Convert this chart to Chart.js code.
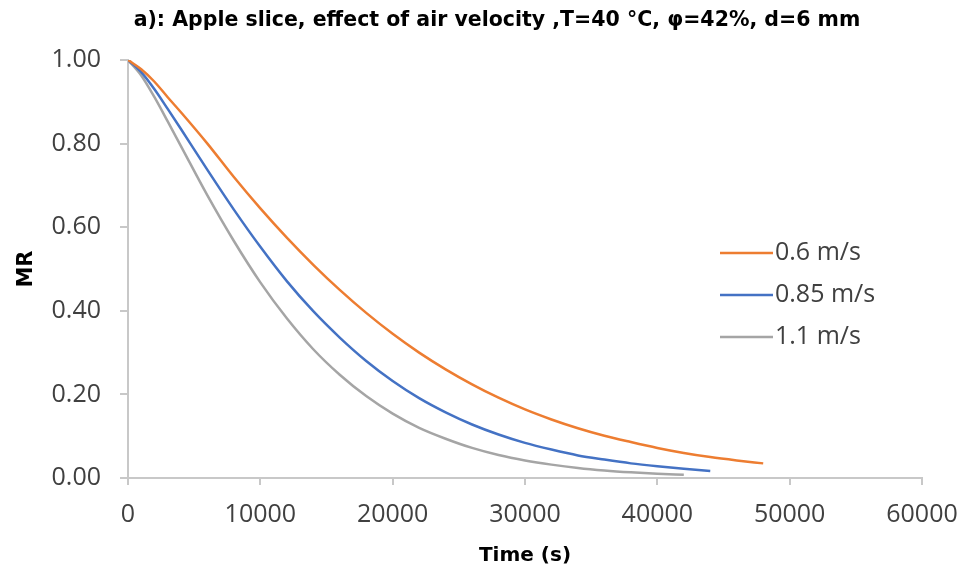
<!DOCTYPE html>
<html>
<head>
<meta charset="utf-8">
<title>Apple slice, effect of air velocity</title>
<script src="https://cdn.jsdelivr.net/npm/chart.js"></script>
<style>
html, body { margin: 0; padding: 0; background: #fff; }
#wrap { width: 966px; height: 575px; }
</style>
</head>
<body>
<div id="wrap"><canvas id="chart" width="966" height="575"></canvas></div>

<script>
// Tiempo de secado (s)
const times = [0, 1000, 2000, 3000, 4000, 6000, 8000, 10000, 12000, 14000, 16000, 18000, 20000, 22000,
  24000, 26000, 28000, 30000, 32000, 34000, 36000, 38000, 40000, 42000, 44000, 46000, 48000];

// MR para cada velocidad del aire
const mr06 = [1.00, 0.978, 0.948, 0.911, 0.875, 0.80, 0.72, 0.645, 0.575, 0.51, 0.45, 0.395, 0.345, 0.30,
  0.26, 0.224, 0.192, 0.164, 0.140, 0.119, 0.101, 0.086, 0.072, 0.060, 0.050, 0.042, 0.035];
const mr085 = [1.00, 0.971, 0.930, 0.883, 0.835, 0.737, 0.642, 0.553, 0.471, 0.399, 0.336, 0.280, 0.232, 0.191,
  0.157, 0.128, 0.104, 0.084, 0.068, 0.054, 0.044, 0.035, 0.028, 0.022, 0.017];
const mr11 = [1.00, 0.963, 0.911, 0.853, 0.794, 0.676, 0.567, 0.468, 0.382, 0.308, 0.247, 0.196, 0.154, 0.120,
  0.094, 0.072, 0.055, 0.042, 0.032, 0.024, 0.018, 0.0135, 0.010, 0.0075];

const seriesLabels = ['0.6 m/s', '0.85 m/s', '1.1 m/s'];
const colors = ['#ED7D31', '#4472C4', '#A5A5A5'];

const xTicks = [0, 10000, 20000, 30000, 40000, 50000, 60000];
const yTicks = [0, 0.2, 0.4, 0.6, 0.8, 1.0];

const chartTitle = 'a): Apple slice, effect of air velocity ,T=40 °C, φ=42%, d=6 mm';

const tickFont = { family: 'Open Sans', size: 25 };
const titleFont = { family: 'DejaVu Sans', size: 20, weight: 'bold' };

function toPoints(values) {
  return values.map((v, i) => ({ x: times[i], y: v }));
}

// Título y leyenda dibujados a mano (el título no está centrado sobre el lienzo)
const extras = {
  id: 'extras',
  afterDatasetsDraw(chart) {
    const ctx = chart.ctx;
    ctx.save();
    ctx.font = 'bold 20.5px "DejaVu Sans"';
    ctx.fillStyle = '#000';
    ctx.textAlign = 'center';
    ctx.textBaseline = 'middle';
    ctx.fillText(chartTitle, 497, 21);

    const x0 = 720, x1 = 773;
    const rows = [253, 295, 337];
    ctx.font = '25px "Open Sans"';
    ctx.textAlign = 'left';
    chart.data.datasets.forEach((ds, i) => {
      ctx.strokeStyle = ds.borderColor;
      ctx.lineWidth = 2.5;
      ctx.beginPath();
      ctx.moveTo(x0, rows[i]);
      ctx.lineTo(x1, rows[i]);
      ctx.stroke();
      ctx.fillStyle = '#404040';
      ctx.fillText(ds.label, x1 + 2, rows[i]);
    });
    ctx.restore();
  }
};

const datasets = [mr06, mr085, mr11].map((vals, i) => ({
  label: seriesLabels[i],
  data: toPoints(vals),
  borderColor: colors[i],
  backgroundColor: colors[i],
  borderWidth: 2.5,
  pointRadius: 0,
  cubicInterpolationMode: 'monotone',
  fill: false
}));

new Chart(document.getElementById('chart'), {
  type: 'line',
  data: { datasets: datasets },
  options: {
    responsive: false,
    animation: false,
    layout: { padding: { left: 0, right: 0, top: 60, bottom: 0 } },
    plugins: {
      legend: { display: false },
      tooltip: { enabled: false },
      title: { display: false }
    },
    scales: {
      x: {
        type: 'linear',
        min: 0,
        max: 60000,
        afterBuildTicks: s => { s.ticks = xTicks.map(v => ({ value: v })); },
        afterFit: s => { s.height = 97; s.paddingLeft = 0; s.paddingRight = 44; },
        ticks: {
          font: tickFont,
          color: '#404040',
          padding: 15,
          maxRotation: 0,
          callback: v => String(v)
        },
        grid: { drawOnChartArea: false, drawTicks: true, tickLength: 7, color: '#c8c8c8', lineWidth: 2 },
        border: { display: true, color: '#c8c8c8', width: 2 },
        title: {
          display: true,
          text: 'Time (s)',
          font: titleFont,
          color: '#000',
          padding: { top: 0, bottom: 7 }
        }
      },
      y: {
        min: 0,
        max: 1,
        afterBuildTicks: s => { s.ticks = yTicks.map(v => ({ value: v })); },
        afterFit: s => { s.width = 128; },
        ticks: {
          font: tickFont,
          color: '#404040',
          padding: 19,
          callback: v => v.toFixed(2)
        },
        grid: { drawOnChartArea: false, drawTicks: true, tickLength: 8, color: '#c8c8c8', lineWidth: 2 },
        border: { display: true, color: '#c8c8c8', width: 2 },
        title: {
          display: true,
          text: 'MR',
          font: { family: 'DejaVu Sans', size: 21, weight: 'bold' },
          color: '#000',
          padding: { top: 14, bottom: 0 }
        }
      }
    }
  },
  plugins: [extras]
});
</script>
</body>
</html>
